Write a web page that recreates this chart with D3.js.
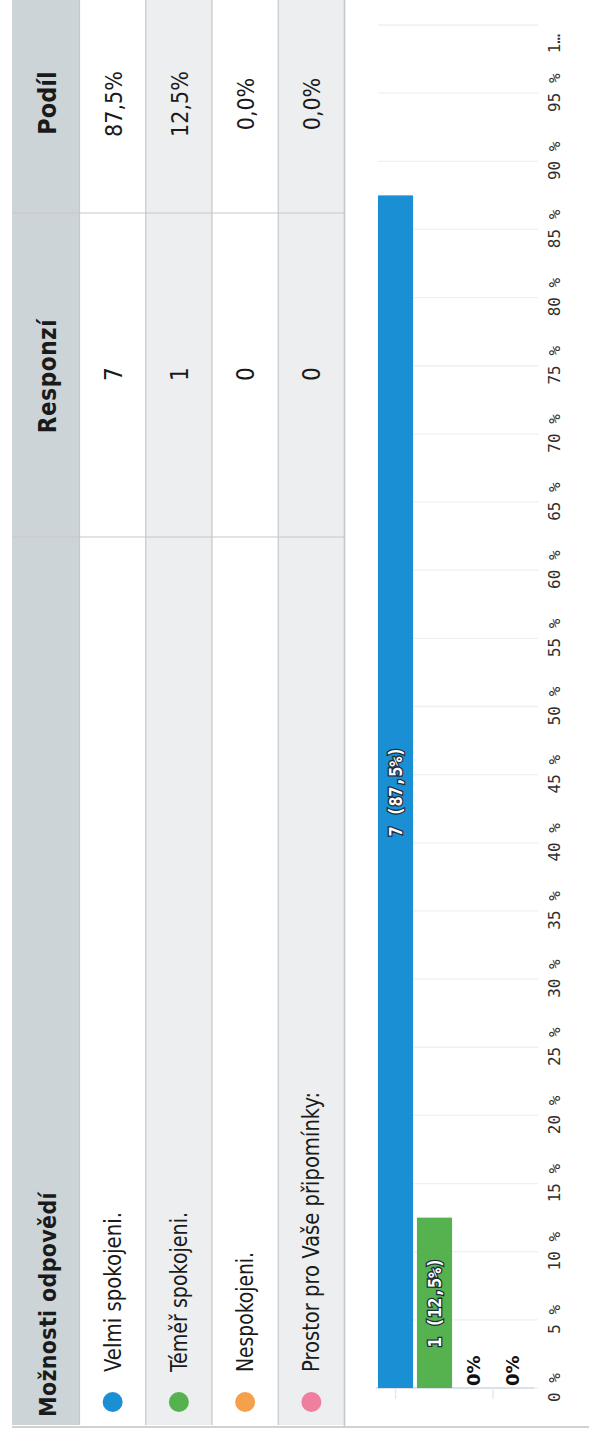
<!DOCTYPE html>
<html><head><meta charset="utf-8">
<script src="https://cdn.jsdelivr.net/npm/d3@7/dist/d3.min.js"></script>
<style>
body{margin:0;background:#fff}
svg{display:block}
.tbl{font-family:"DejaVu Sans Condensed","DejaVu Sans",sans-serif;font-stretch:condensed}
</style></head>
<body>
<svg id="c" width="589" height="1438"></svg>
<script>
// ---- data ----
const categories = ["Velmi spokojeni.", "Téměř spokojeni.", "Nespokojeni.", "Prostor pro Vaše připomínky:"];
const responses = [7, 1, 0, 0];
const shares = [87.5, 12.5, 0, 0];
const shareLabels = ["87,5%", "12,5%", "0,0%", "0,0%"];
const barLabels = ["7 (87,5%)", "1 (12,5%)", "0%", "0%"];
const headers = ["Možnosti odpovědí", "Responzí", "Podíl"];
const colors = ["#1b8fd4", "#55b24f", "#f5a04b", "#ee7f9e"];
const tickValues = [0, 5, 10, 15, 20, 25, 30, 35, 40, 45, 50, 55, 60, 65, 70, 75, 80, 85, 90, 95, 100];
const tickLabels = ["0 %", "5 %", "10 %", "15 %", "20 %", "25 %", "30 %", "35 %", "40 %", "45 %", "50 %", "55 %", "60 %", "65 %", "70 %", "75 %", "80 %", "85 %", "90 %", "95 %", "1…"];

// ---- layout (drawn in the un-rotated page frame, then turned 90° ccw) ----
const W = 1438, H = 589;
const svg = d3.select("#c");
const root = svg.append("g").attr("transform", `translate(0,${W}) rotate(-90)`);

const tableLeft = 13, col2 = 901, col3 = 1225, tableRight = W + 10;
const headTop = 12, headBottom = 79.5, tableBottom = 344.5;
const charW = 10; // condensed document face: ~10px per character

const rowY = d3.scaleBand().domain(categories).range([headBottom, tableBottom]);

// header band
root.append("rect").attr("x", tableLeft).attr("y", headTop)
  .attr("width", tableRight - tableLeft).attr("height", headBottom - headTop)
  .attr("fill", "#cdd4d8");

// row backgrounds
root.selectAll("rect.row").data(categories).join("rect").attr("class", "row")
  .attr("x", tableLeft).attr("y", d => rowY(d))
  .attr("width", tableRight - tableLeft).attr("height", rowY.bandwidth())
  .attr("fill", (d, i) => i % 2 ? "#eceeef" : "#ffffff");

// row separators
root.selectAll("line.sep").data([headBottom, ...categories.map(c => rowY(c) + rowY.bandwidth())])
  .join("line").attr("class", "sep")
  .attr("x1", tableLeft).attr("x2", tableRight).attr("y1", d => d).attr("y2", d => d)
  .attr("stroke", "#c4c8cb").attr("stroke-width", 1.2);

// column dividers
root.selectAll("line.col").data([col2, col3]).join("line").attr("class", "col")
  .attr("x1", d => d).attr("x2", d => d).attr("y1", headTop).attr("y2", tableBottom)
  .attr("stroke", "#c4c8cb").attr("stroke-width", 1.2);

// outer frame line
root.append("line").attr("x1", 11).attr("x2", 11).attr("y1", headTop).attr("y2", H)
  .attr("stroke", "#c2c2c2").attr("stroke-width", 1.5);

// headers
const hdr = root.append("g").attr("class", "tbl").attr("font-weight", "bold").attr("fill", "#1a1a1a");
hdr.append("text").attr("x", 21).attr("y", 56).attr("font-size", 23).attr("letter-spacing", 0.3).text(headers[0]);
hdr.append("text").attr("x", 1062).attr("y", 56).attr("font-size", 24).attr("letter-spacing", 0.6).attr("text-anchor", "middle").text(headers[1]);
hdr.append("text").attr("x", 1335).attr("y", 56).attr("font-size", 25).attr("text-anchor", "middle").text(headers[2]);

// legend dots
root.selectAll("circle.dot").data(categories).join("circle").attr("class", "dot")
  .attr("cx", 36).attr("cy", d => rowY(d) + rowY.bandwidth() / 2).attr("r", 10)
  .attr("fill", (d, i) => colors[i]);

// category labels
root.selectAll("text.cat").data(categories).join("text").attr("class", "cat tbl")
  .attr("x", 66).attr("y", d => rowY(d) + rowY.bandwidth() / 2 + 8)
  .attr("font-size", 23).attr("fill", "#1a1a1a")
  .attr("textLength", d => d.length * charW).attr("lengthAdjust", "spacingAndGlyphs")
  .text(d => d);

// responses
root.selectAll("text.resp").data(responses).join("text").attr("class", "resp tbl")
  .attr("x", 1064).attr("y", (d, i) => rowY(categories[i]) + rowY.bandwidth() / 2 + 9)
  .attr("text-anchor", "middle").attr("font-size", 24).attr("fill", "#1a1a1a").text(d => d);

// shares
root.selectAll("text.share").data(shareLabels).join("text").attr("class", "share tbl")
  .attr("x", 1334).attr("y", (d, i) => rowY(categories[i]) + rowY.bandwidth() / 2 + 9)
  .attr("text-anchor", "middle").attr("font-size", 23).attr("fill", "#1a1a1a").text(d => d);

// separator between table and chart
root.append("line").attr("x1", 11).attr("x2", W).attr("y1", tableBottom).attr("y2", tableBottom)
  .attr("stroke", "#c4c8cb").attr("stroke-width", 1.5);

// ---- bar chart ----
const x = d3.scaleLinear().domain([0, 100]).range([50, 1413]);
const y = d3.scaleBand().domain(categories).range([376, 532]).paddingInner(0.1).paddingOuter(0.05);

// gridlines
root.append("g").selectAll("line").data(tickValues).join("line")
  .attr("x1", d => x(d)).attr("x2", d => x(d)).attr("y1", 378).attr("y2", 538)
  .attr("stroke", "#f0f0f0").attr("stroke-width", 1.3);

// category axis line
root.append("line").attr("x1", x(0)).attr("x2", x(0)).attr("y1", 376).attr("y2", 534)
  .attr("stroke", "#d5dbe6").attr("stroke-width", 1.5);
root.selectAll("line.ctick").data([y(categories[0]) + y.bandwidth() / 2, y(categories[3]) - y.step() * y.paddingInner() / 2])
  .join("line").attr("class", "ctick")
  .attr("x1", x(0) - 11).attr("x2", x(0)).attr("y1", d => d).attr("y2", d => d)
  .attr("stroke", "#e2e6ec").attr("stroke-width", 1.3);

// bars
root.selectAll("rect.bar").data(shares).join("rect").attr("class", "bar")
  .attr("x", x(0)).attr("y", (d, i) => y(categories[i]))
  .attr("width", d => x(d) - x(0)).attr("height", y.bandwidth())
  .attr("fill", (d, i) => colors[i]);

// bar labels
root.selectAll("text.blab").data(shares).join("text").attr("class", "blab")
  .attr("x", d => d > 0 ? (x(0) + x(d)) / 2 : x(d) + 2)
  .attr("y", (d, i) => y(categories[i]) + y.bandwidth() / 2)
  .attr("dy", "0.36em")
  .attr("text-anchor", d => d > 0 ? "middle" : "start")
  .attr("font-family", d => d > 0 ? "'DejaVu Sans Mono', monospace" : "'DejaVu Sans', sans-serif")
  .attr("font-weight", "bold")
  .attr("font-size", d => d > 0 ? 17 : 18)
  .attr("letter-spacing", d => d > 0 ? -0.3 : 0)
  .attr("fill", d => d > 0 ? "#ffffff" : "#111111")
  .attr("stroke", d => d > 0 ? "#1f2d3a" : "none")
  .attr("stroke-width", 2.6)
  .attr("paint-order", "stroke")
  .text((d, i) => barLabels[i]);

// value axis
const ax = root.append("g").attr("class", "axis").attr("transform", "translate(0,546)")
  .call(d3.axisBottom(x).tickValues(tickValues).tickSize(0).tickPadding(3)
    .tickFormat((d, i) => tickLabels[i]));
ax.select(".domain").remove();
ax.attr("font-size", null).attr("font-family", null);
ax.selectAll(".tick text")
  .style("font-family", "'DejaVu Sans Mono', monospace")
  .style("font-size", "16px")
  .style("fill", "#2e2e2e");
ax.selectAll(".tick").filter(d => d === 100).select("text").attr("x", -19);
</script>
</body></html>
